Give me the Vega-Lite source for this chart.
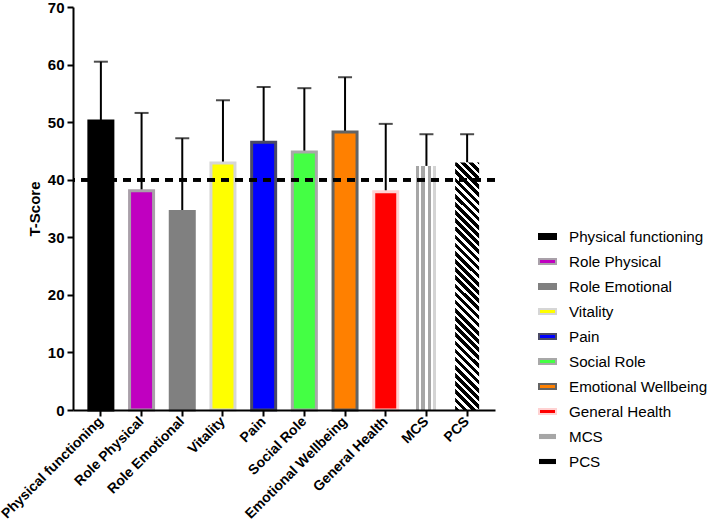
{
  "$schema": "https://vega.github.io/schema/vega-lite/v6.json",
  "width": 422,
  "height": 403,
  "autosize": {"type": "none"},
  "padding": {"left": 73, "top": 7, "right": 214, "bottom": 118},
  "config": {
    "view": {"stroke": null},
    "font": "Liberation Sans",
    "legend": {
      "orient": "none",
      "legendX": 465,
      "legendY": 220,
      "padding": 0,
      "title": null,
      "labelFont": "Liberation Sans",
      "labelFontSize": 15.2,
      "labelColor": "#000000",
      "labelOffset": 12,
      "labelLimit": 300,
      "symbolType": "M-1,-0.3H1V0.3H-1Z",
      "symbolSize": 289,
      "symbolStrokeWidth": 2,
      "rowPadding": 7
    }
  },
  "data": {
    "values": [
      {"measure": "Physical functioning", "value": 50.2, "upper": 60.5},
      {"measure": "Role Physical", "value": 38.1, "upper": 51.6},
      {"measure": "Role Emotional", "value": 34.5, "upper": 47.2},
      {"measure": "Vitality", "value": 42.9, "upper": 53.8},
      {"measure": "Pain", "value": 46.5, "upper": 56.1},
      {"measure": "Social Role", "value": 44.8, "upper": 55.9},
      {"measure": "Emotional Wellbeing", "value": 48.3, "upper": 57.8},
      {"measure": "General Health", "value": 37.9, "upper": 49.7},
      {"measure": "MCS", "value": 42.4, "upper": 47.9},
      {"measure": "PCS", "value": 43.0, "upper": 47.9}
    ]
  },
  "layer": [
    {
      "mark": {"type": "rule", "color": "#000000", "strokeWidth": 2},
      "encoding": {
        "x": {"field": "measure", "type": "nominal", "sort": null, "scale": {"paddingInner": 0.41, "paddingOuter": 0.39}},
        "y": {"field": "value", "type": "quantitative"},
        "y2": {"field": "upper"}
      }
    },
    {
      "mark": {"type": "bar", "strokeWidth": 3},
      "encoding": {
        "x": {
          "field": "measure",
          "type": "nominal",
          "sort": null,
          "scale": {"paddingInner": 0.41, "paddingOuter": 0.39},
          "axis": {
            "title": null,
            "labelAngle": -45,
            "labelFont": "Liberation Sans",
            "labelFontSize": 14,
            "labelFontWeight": "bold",
            "labelColor": "#000000",
            "labelPadding": 3,
            "labelLimit": 300,
            "domainColor": "#000000",
            "domainWidth": 2,
            "tickColor": "#000000",
            "tickWidth": 2,
            "tickSize": 6,
            "zindex": 1
          }
        },
        "y": {
          "field": "value",
          "type": "quantitative",
          "scale": {"domain": [0, 70], "nice": false},
          "axis": {
            "title": "T-Score",
            "titleFont": "Liberation Sans",
            "titleFontSize": 15,
            "titleFontWeight": "bold",
            "titleColor": "#000000",
            "titlePadding": 5,
            "values": [0, 10, 20, 30, 40, 50, 60, 70],
            "labelFont": "Liberation Sans",
            "labelFontSize": 15,
            "labelFontWeight": "bold",
            "labelColor": "#000000",
            "labelPadding": 3,
            "grid": false,
            "domainColor": "#000000",
            "domainWidth": 2,
            "tickColor": "#000000",
            "tickWidth": 2,
            "tickSize": 6,
            "zindex": 1
          }
        },
        "fill": {
          "field": "measure",
          "type": "nominal",
          "sort": null,
          "condition": [
            {
              "test": "datum.measure === 'MCS'",
              "value": {
                "gradient": "linear", "x1": 0, "y1": 0, "x2": 1, "y2": 0,
                "stops": [
                  {"offset": 0, "color": "#ffffff"}, {"offset": 0.08, "color": "#ffffff"},
                  {"offset": 0.08, "color": "#a6a6a6"}, {"offset": 0.21, "color": "#a6a6a6"},
                  {"offset": 0.21, "color": "#ffffff"}, {"offset": 0.29, "color": "#ffffff"},
                  {"offset": 0.29, "color": "#a6a6a6"}, {"offset": 0.43, "color": "#a6a6a6"},
                  {"offset": 0.43, "color": "#ffffff"}, {"offset": 0.55, "color": "#ffffff"},
                  {"offset": 0.55, "color": "#a6a6a6"}, {"offset": 0.67, "color": "#a6a6a6"},
                  {"offset": 0.67, "color": "#ffffff"}, {"offset": 0.79, "color": "#ffffff"},
                  {"offset": 0.79, "color": "#d4d4d4"}, {"offset": 0.88, "color": "#d4d4d4"},
                  {"offset": 0.88, "color": "#ffffff"}, {"offset": 1, "color": "#ffffff"}
                ]
              }
            },
            {
              "test": "datum.measure === 'PCS'",
              "value": {
                "gradient": "linear", "x1": 0, "y1": 1, "x2": 0.105, "y2": -0.087,
                "stops": [
                  {"offset": 0, "color": "#000"}, {"offset": 0.017, "color": "#000"}, {"offset": 0.017, "color": "#fff"}, {"offset": 0.03, "color": "#fff"},
                  {"offset": 0.03, "color": "#000"}, {"offset": 0.047, "color": "#000"}, {"offset": 0.047, "color": "#fff"}, {"offset": 0.06, "color": "#fff"},
                  {"offset": 0.06, "color": "#000"}, {"offset": 0.077, "color": "#000"}, {"offset": 0.077, "color": "#fff"}, {"offset": 0.09, "color": "#fff"},
                  {"offset": 0.09, "color": "#000"}, {"offset": 0.107, "color": "#000"}, {"offset": 0.107, "color": "#fff"}, {"offset": 0.12, "color": "#fff"},
                  {"offset": 0.12, "color": "#000"}, {"offset": 0.137, "color": "#000"}, {"offset": 0.137, "color": "#fff"}, {"offset": 0.15, "color": "#fff"},
                  {"offset": 0.15, "color": "#000"}, {"offset": 0.167, "color": "#000"}, {"offset": 0.167, "color": "#fff"}, {"offset": 0.18, "color": "#fff"},
                  {"offset": 0.18, "color": "#000"}, {"offset": 0.197, "color": "#000"}, {"offset": 0.197, "color": "#fff"}, {"offset": 0.21, "color": "#fff"},
                  {"offset": 0.21, "color": "#000"}, {"offset": 0.227, "color": "#000"}, {"offset": 0.227, "color": "#fff"}, {"offset": 0.24, "color": "#fff"},
                  {"offset": 0.24, "color": "#000"}, {"offset": 0.257, "color": "#000"}, {"offset": 0.257, "color": "#fff"}, {"offset": 0.27, "color": "#fff"},
                  {"offset": 0.27, "color": "#000"}, {"offset": 0.287, "color": "#000"}, {"offset": 0.287, "color": "#fff"}, {"offset": 0.3, "color": "#fff"},
                  {"offset": 0.3, "color": "#000"}, {"offset": 0.317, "color": "#000"}, {"offset": 0.317, "color": "#fff"}, {"offset": 0.33, "color": "#fff"},
                  {"offset": 0.33, "color": "#000"}, {"offset": 0.347, "color": "#000"}, {"offset": 0.347, "color": "#fff"}, {"offset": 0.36, "color": "#fff"},
                  {"offset": 0.36, "color": "#000"}, {"offset": 0.377, "color": "#000"}, {"offset": 0.377, "color": "#fff"}, {"offset": 0.39, "color": "#fff"},
                  {"offset": 0.39, "color": "#000"}, {"offset": 0.407, "color": "#000"}, {"offset": 0.407, "color": "#fff"}, {"offset": 0.42, "color": "#fff"},
                  {"offset": 0.42, "color": "#000"}, {"offset": 0.437, "color": "#000"}, {"offset": 0.437, "color": "#fff"}, {"offset": 0.45, "color": "#fff"},
                  {"offset": 0.45, "color": "#000"}, {"offset": 0.467, "color": "#000"}, {"offset": 0.467, "color": "#fff"}, {"offset": 0.48, "color": "#fff"},
                  {"offset": 0.48, "color": "#000"}, {"offset": 0.497, "color": "#000"}, {"offset": 0.497, "color": "#fff"}, {"offset": 0.51, "color": "#fff"},
                  {"offset": 0.51, "color": "#000"}, {"offset": 0.527, "color": "#000"}, {"offset": 0.527, "color": "#fff"}, {"offset": 0.54, "color": "#fff"},
                  {"offset": 0.54, "color": "#000"}, {"offset": 0.557, "color": "#000"}, {"offset": 0.557, "color": "#fff"}, {"offset": 0.57, "color": "#fff"},
                  {"offset": 0.57, "color": "#000"}, {"offset": 0.587, "color": "#000"}, {"offset": 0.587, "color": "#fff"}, {"offset": 0.6, "color": "#fff"},
                  {"offset": 0.6, "color": "#000"}, {"offset": 0.617, "color": "#000"}, {"offset": 0.617, "color": "#fff"}, {"offset": 0.63, "color": "#fff"},
                  {"offset": 0.63, "color": "#000"}, {"offset": 0.647, "color": "#000"}, {"offset": 0.647, "color": "#fff"}, {"offset": 0.66, "color": "#fff"},
                  {"offset": 0.66, "color": "#000"}, {"offset": 0.677, "color": "#000"}, {"offset": 0.677, "color": "#fff"}, {"offset": 0.69, "color": "#fff"},
                  {"offset": 0.69, "color": "#000"}, {"offset": 0.707, "color": "#000"}, {"offset": 0.707, "color": "#fff"}, {"offset": 0.72, "color": "#fff"},
                  {"offset": 0.72, "color": "#000"}, {"offset": 0.737, "color": "#000"}, {"offset": 0.737, "color": "#fff"}, {"offset": 0.75, "color": "#fff"},
                  {"offset": 0.75, "color": "#000"}, {"offset": 0.767, "color": "#000"}, {"offset": 0.767, "color": "#fff"}, {"offset": 0.78, "color": "#fff"},
                  {"offset": 0.78, "color": "#000"}, {"offset": 0.797, "color": "#000"}, {"offset": 0.797, "color": "#fff"}, {"offset": 0.81, "color": "#fff"},
                  {"offset": 0.81, "color": "#000"}, {"offset": 0.827, "color": "#000"}, {"offset": 0.827, "color": "#fff"}, {"offset": 0.84, "color": "#fff"},
                  {"offset": 0.84, "color": "#000"}, {"offset": 0.857, "color": "#000"}, {"offset": 0.857, "color": "#fff"}, {"offset": 0.87, "color": "#fff"},
                  {"offset": 0.87, "color": "#000"}, {"offset": 0.887, "color": "#000"}, {"offset": 0.887, "color": "#fff"}, {"offset": 0.9, "color": "#fff"},
                  {"offset": 0.9, "color": "#000"}, {"offset": 0.917, "color": "#000"}, {"offset": 0.917, "color": "#fff"}, {"offset": 0.93, "color": "#fff"},
                  {"offset": 0.93, "color": "#000"}, {"offset": 0.947, "color": "#000"}, {"offset": 0.947, "color": "#fff"}, {"offset": 0.96, "color": "#fff"},
                  {"offset": 0.96, "color": "#000"}, {"offset": 0.977, "color": "#000"}, {"offset": 0.977, "color": "#fff"}, {"offset": 0.99, "color": "#fff"},
                  {"offset": 0.99, "color": "#000"}, {"offset": 1, "color": "#000"}
                ]
              }
            }
          ],
          "scale": {
            "domain": ["Physical functioning", "Role Physical", "Role Emotional", "Vitality", "Pain", "Social Role", "Emotional Wellbeing", "General Health", "MCS", "PCS"],
            "range": ["#000000", "#c000c0", "#808080", "#ffff00", "#0000ff", "#44ff44", "#ff8000", "#ff0000", "#a6a6a6", "#000000"]
          },
          "legend": {"title": null}
        },
        "stroke": {
          "field": "measure",
          "type": "nominal",
          "sort": null,
          "scale": {
            "domain": ["Physical functioning", "Role Physical", "Role Emotional", "Vitality", "Pain", "Social Role", "Emotional Wellbeing", "General Health", "MCS", "PCS"],
            "range": ["#000000", "#a9a0a9", "#808080", "#d6d6d6", "#4a4a66", "#a8a8a8", "#636363", "#ffd2d2", "transparent", "transparent"]
          },
          "legend": {"title": null}
        }
      }
    },
    {
      "mark": {"type": "tick", "color": "#000000", "size": 14, "thickness": 2},
      "encoding": {
        "x": {"field": "measure", "type": "nominal", "sort": null, "scale": {"paddingInner": 0.41, "paddingOuter": 0.39}},
        "y": {"field": "upper", "type": "quantitative"}
      }
    },
    {
      "mark": {"type": "rule", "color": "#000000", "strokeWidth": 3, "strokeDash": [8, 6]},
      "encoding": {
        "y": {"datum": 40, "type": "quantitative"}
      }
    }
  ]
}
